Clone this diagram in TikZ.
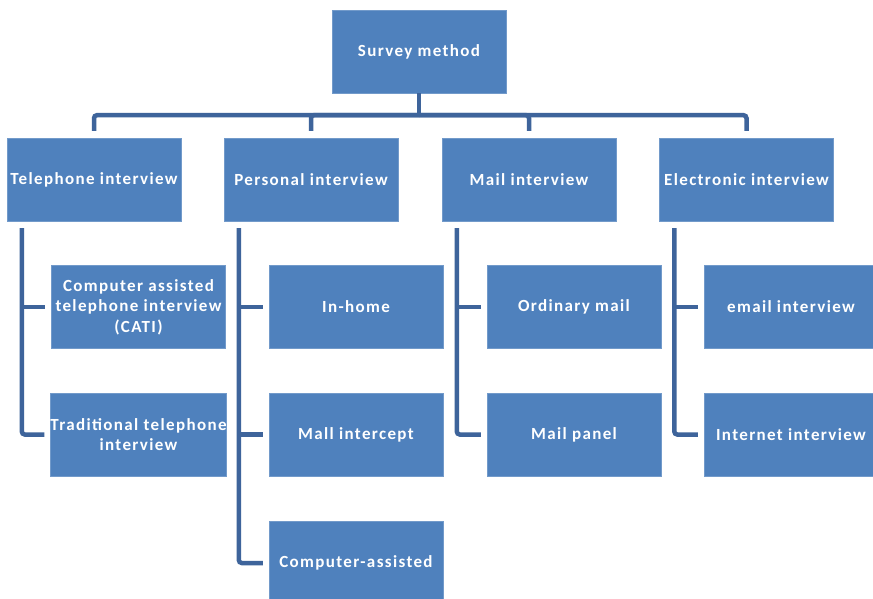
\documentclass[tikz,border=0pt]{standalone}
\usepackage{fontspec}
\setmainfont{Carlito}[LetterSpace=8]
\definecolor{boxblue}{RGB}{79,129,189}
\definecolor{lineblue}{RGB}{62,100,155}
\tikzset{
  box/.style={fill=boxblue, draw=boxblue!80!white, minimum width=174pt, minimum height=83pt,
    inner sep=0pt, align=center, text=white, font=\fontsize{17}{20.5}\selectfont\bfseries},
  link/.style={draw=lineblue, line width=4.5pt, rounded corners=3pt}
}
\begin{document}
\begin{tikzpicture}[x=1pt,y=-1pt]
\useasboundingbox[fill=white] (0,0) rectangle (873,599);
%Top
\node[box] (survey) at (419,51.5) {Survey method};
%Level 2
\node[box] (tel) at (94,179.5) {Telephone interview};
\node[box] (pers) at (311,179.5) {Personal interview};
\node[box] (mail) at (529,179.5) {Mail interview};
\node[box] (elec) at (746.5,179.5) {Electronic interview};
%Telephone
\node[box] (cati) at (138.5,307) {Computer assisted\\telephone interview\\(CATI)};
\node[box] (trad) at (138.5,434.5) {Traditional telephone\\interview};
%Personal
\node[box] (home) at (356,307) {In-home};
\node[box] (intercept) at (356,434.5) {Mall intercept};
\node[box] (capi) at (356,563) {Computer-assisted};
%Mail
\node[box] (ordinary) at (574,307) {Ordinary mail};
\node[box] (panel) at (574,434.5) {Mail panel};
%Electronic
\node[box] (email) at (791,307) {email interview};
\node[box] (internet) at (791,434.5) {Internet interview};
%Bus
\draw[link] (survey.south) -- ++(0,22) coordinate (bus);
\foreach \n in {tel,pers,mail,elec}
  \draw[link, shorten >=7pt] (bus) -| (\n.north);
%Rails
\draw[link, shorten <=7pt, shorten >=6pt] ([xshift=15pt]tel.south west) |- (trad.west);
\draw[link, shorten >=6pt] ([xshift=15pt]tel.south west |- cati.west) -- (cati.west);
\draw[link, shorten <=7pt, shorten >=6pt] ([xshift=15pt]pers.south west) |- (capi.west);
\draw[link, shorten >=6pt] ([xshift=15pt]pers.south west |- home.west) -- (home.west);
\draw[link, shorten >=6pt] ([xshift=15pt]pers.south west |- intercept.west) -- (intercept.west);
\draw[link, shorten <=7pt, shorten >=6pt] ([xshift=15pt]mail.south west) |- (panel.west);
\draw[link, shorten >=6pt] ([xshift=15pt]mail.south west |- ordinary.west) -- (ordinary.west);
\draw[link, shorten <=7pt, shorten >=6pt] ([xshift=15pt]elec.south west) |- (internet.west);
\draw[link, shorten >=6pt] ([xshift=15pt]elec.south west |- email.west) -- (email.west);
\end{tikzpicture}
\end{document}
